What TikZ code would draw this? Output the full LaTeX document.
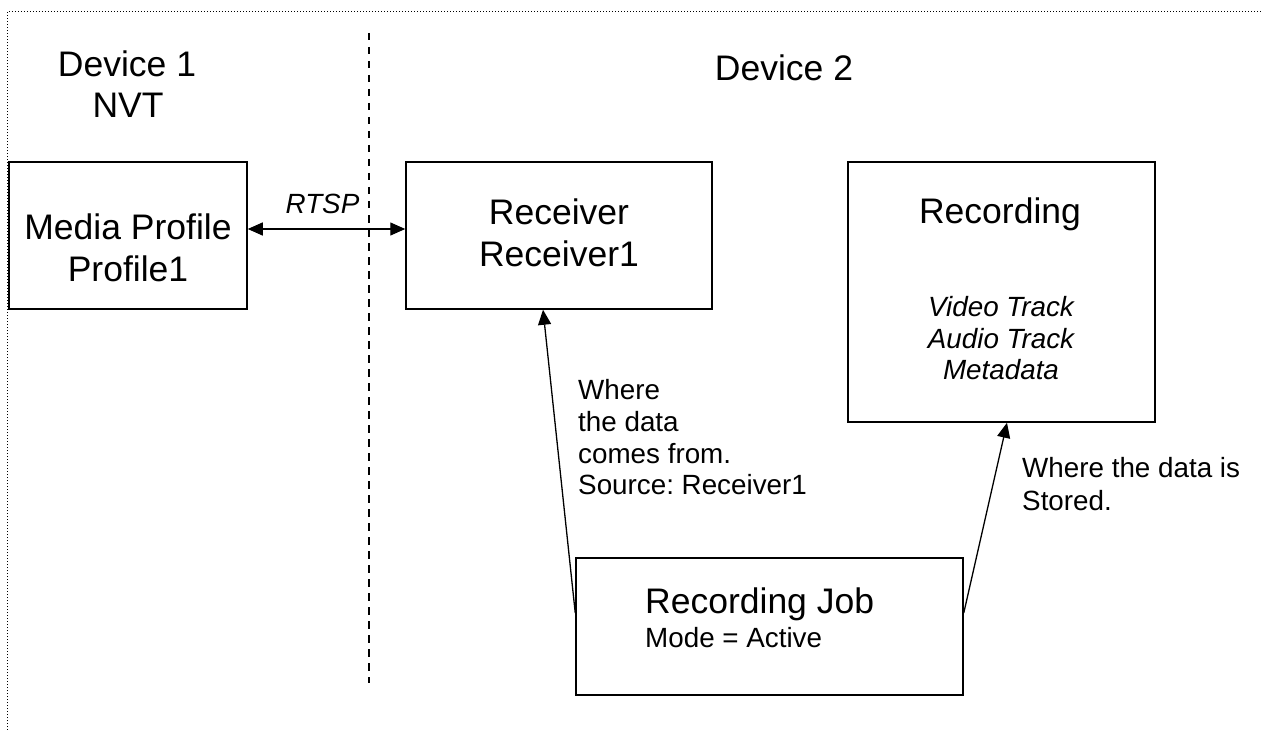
\documentclass[tikz,border=0pt]{standalone}
\usepackage{fontspec}
\setmainfont{Liberation Sans}
\usetikzlibrary{arrows.meta}
\frenchspacing
\tikzset{
  box/.style={draw, line width=1.5pt, minimum width=#1, inner sep=0pt},
  big/.style={font=\fontsize{35.5}{40.5}\selectfont, inner sep=0pt},
  small/.style={font=\fontsize{27.8}{32}\selectfont, inner sep=0pt},
  smallit/.style={font=\fontsize{27.8}{32}\selectfont\itshape, inner sep=0pt},
  conn/.style={line width=1.3pt, -{Triangle[length=15pt,width=13pt]}},
  biconn/.style={line width=1.3pt, {Triangle[length=15pt,width=13pt]}-{Triangle[length=15pt,width=13pt]}},
  border/.style={line width=1.5pt, dash pattern=on 1.2pt off 1.8pt},
  divider/.style={line width=2pt, dash pattern=on 7.5pt off 6.5pt}
}
\begin{document}
\begin{tikzpicture}[x=1pt, y=-1pt]
\useasboundingbox (0,0) rectangle (1263,730);
% outer dotted frame
\draw[border] (7.3,730) -- (7.3,11.7) -- (1263,11.7);
% divider
\coordinate (dtop) at (369,33);
\coordinate (dbot) at (369,683);
\draw[divider] (dtop) -- (dbot);
% boxes
\node[box, minimum width=238pt, minimum height=147pt] (media) at (128,235.5) {};
\node[box, minimum width=306pt, minimum height=147pt] (recv) at (559,235.5) {};
\node[box, minimum width=307pt, minimum height=260pt] (rec) at (1001.5,292) {};
\node[box, minimum width=387pt, minimum height=137pt] (job) at (769.5,626.5) {};
% headings
\node[big, anchor=base] (d1a) at (127,77) {Device 1};
\node[big, anchor=base] (d1b) at (128,118) {NVT};
\node[big, anchor=base] (d2) at (784,81) {Device 2};
% box texts
\node[big, anchor=base] (mt1) at (128,240) {Media Profile};
\node[big, anchor=base] (mt2) at (128,281) {Profile1};
\node[big, anchor=base] (rt1) at (559,224) {Receiver};
\node[big, anchor=base] (rt2) at (559,266) {Receiver1};
\node[big, anchor=base] (ct1) at (1000,223) {Recording};
\node[smallit, anchor=base] (ct2) at (1001,316) {Video Track};
\node[smallit, anchor=base] (ct3) at (1001,348) {Audio Track};
\node[smallit, anchor=base] (ct4) at (1001,379) {Metadata};
\node[big, anchor=base west] (jt1) at (645,613) {Recording Job};
\node[small, anchor=base west] (jt2) at (645,647) {Mode = Active};
% labels
\node[smallit, anchor=base] (rtsp) at (322.5,213) {RTSP};
\node[small, anchor=base west] (l1a) at (578,399) {Where};
\node[small, anchor=base west] (l1b) at (578,431) {the data};
\node[small, anchor=base west] (l1c) at (578,463) {comes from.};
\node[small, anchor=base west] (l1d) at (578,494) {Source: Receiver1};
\node[small, anchor=base west] (l2a) at (1022,477) {Where the data is};
\node[small, anchor=base west] (l2b) at (1022,510) {Stored.};
% connectors
\coordinate (ry) at (0,229);
\coordinate (jy) at (0,613);
\coordinate (a1x) at (543,0);
\coordinate (a2x) at (1007,0);
\draw[biconn] (media.east |- ry) -- (recv.west |- ry);
\draw[conn] (job.west |- jy) -- (recv.south -| a1x);
\draw[conn] (job.east |- jy) -- (rec.south -| a2x);
\end{tikzpicture}
\end{document}
